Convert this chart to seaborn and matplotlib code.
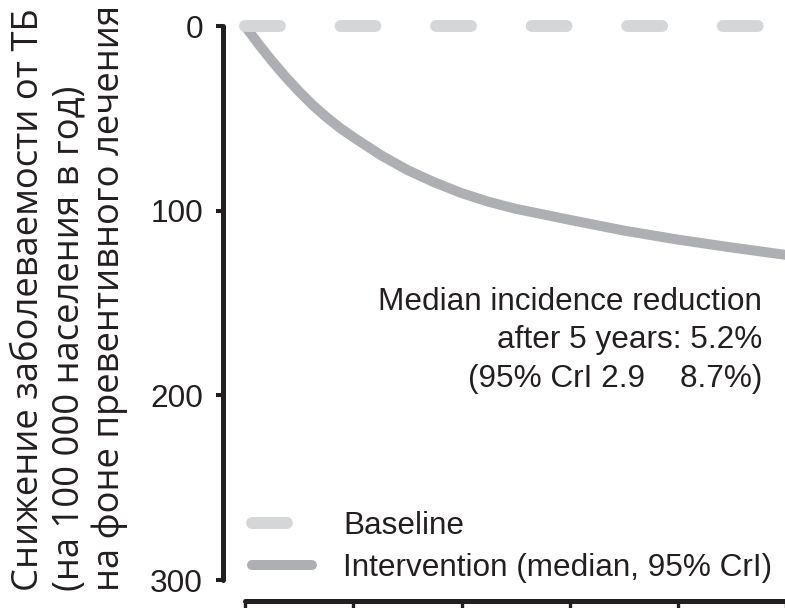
import numpy as np
import pandas as pd
import matplotlib
matplotlib.use("Agg")
import matplotlib.pyplot as plt
import seaborn as sns

# ---- data ----
years = [0, 0.125, 0.25, 0.375, 0.5, 0.625, 0.75, 0.875, 1.0, 1.25, 1.5, 1.75, 2.0,
         2.25, 2.5, 3.0, 3.5, 4.0, 4.5, 5.0]
intervention = [0, 9.8, 19, 27.6, 35.5, 42.8, 49.3, 55.1, 60.2, 69.8, 78, 84.7, 90.5,
                95.2, 99, 105, 110.8, 115.7, 120, 124]
baseline_years = [0, 5]
baseline = [0, 0]
yticks = [0, 100, 200, 300]
xticks = [0, 1, 2, 3, 4, 5]
legend_labels = ["Baseline", "Intervention (median, 95% CrI)"]
ylabel = "Снижение заболеваемости от ТБ\n(на 100 000 населения в год)\nна фоне превентивного лечения"
note = "Median incidence reduction\nafter 5 years: 5.2%\n(95% CrI 2.9    8.7%)"

sns.set_style("ticks")
plt.rcParams["font.family"] = ["Liberation Sans", "DejaVu Sans"]

W, H = 785, 608
fig = plt.figure(figsize=(W / 100, H / 100), dpi=100)
ax = fig.add_axes([245 / W, (H - 580) / H, (786.5 - 245) / W, (580 - 26) / H])

TXT = "#231f20"
C_BASE = "#d5d6d8"
C_INT = "#aeafb2"
FS = 22.7

df_int = pd.DataFrame({"year": years, "reduction": intervention})
df_base = pd.DataFrame({"year": baseline_years, "reduction": baseline})

sns.lineplot(data=df_base, x="year", y="reduction", ax=ax, color=C_BASE, lw=8.6,
             linestyle=(0, (2.92, 5.08)), dash_capstyle="round", errorbar=None,
             label=legend_labels[0], clip_on=False, zorder=3)
sns.lineplot(data=df_int, x="year", y="reduction", ax=ax, color=C_INT, lw=7.2,
             solid_capstyle="round", solid_joinstyle="round", errorbar=None,
             label=legend_labels[1], clip_on=False, zorder=2)

ax.set_xlim(0, 5)
ax.set_ylim(300, 0)
ax.set_yticks(yticks)
ax.set_yticklabels([str(v) for v in yticks])
ax.set_xticks(xticks)
ax.set_xlabel("")
ax.set_ylabel("")

sns.despine(ax=ax, offset={"left": 16.2, "bottom": 15.1})
ax.spines["left"].set_bounds(0, 300)
ax.spines["bottom"].set_bounds(0, 5)
for s in ["left", "bottom"]:
    ax.spines[s].set_linewidth(3.6)
    ax.spines[s].set_color(TXT)
    ax.spines[s].set_capstyle("round")

ax.tick_params(axis="y", direction="out", length=5.4, width=2.9, color=TXT,
               labelsize=FS, labelcolor=TXT, pad=8.6)
ax.tick_params(axis="x", direction="out", length=20, width=2.4, color=TXT,
               labelbottom=False)

leg = ax.legend(loc="upper left", bbox_to_anchor=(252 / W, (H - 511) / H),
                bbox_transform=fig.transFigure, frameon=False, fontsize=FS,
                handlelength=1.9, handletextpad=1.0, borderpad=0, borderaxespad=0,
                labelspacing=0.38)
for t in leg.get_texts():
    t.set_color(TXT)

# va="baseline" anchors the last line's baseline here
fig.text(762 / W, (H - 387) / H, note, ha="right", va="baseline",
         multialignment="right", fontsize=FS, color=TXT, linespacing=1.37)

fig.text(11 / W, (H - 591) / H, ylabel, rotation=90, ha="left", va="bottom",
         multialignment="left", fontsize=26.2, color=TXT, linespacing=1.15,
         family=["Open Sans", "DejaVu Sans"])

fig.savefig("out.png", dpi=100)
